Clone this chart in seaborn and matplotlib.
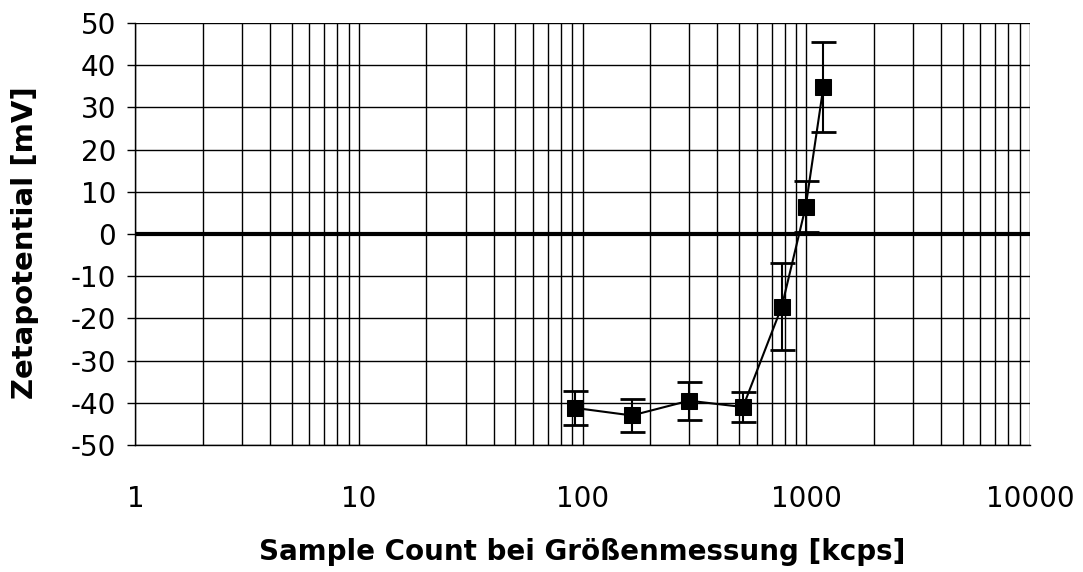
import numpy as np
import pandas as pd
import matplotlib.pyplot as plt
import seaborn as sns
from matplotlib.ticker import LogLocator, FixedLocator, NullFormatter

sns.set_theme(style="white")
plt.rcParams["font.family"] = ["DejaVu Sans"]
plt.rcParams["axes.unicode_minus"] = False
plt.rcParams.update({"text.color": "black", "axes.labelcolor": "black",
                     "xtick.color": "black", "ytick.color": "black"})

# Daten
sample_count = [92, 166, 299, 521, 777, 994, 1192]        # kcps
zeta = [-41.2, -43.0, -39.5, -41.0, -17.2, 6.5, 34.8]      # mV
zeta_err = [4.0, 4.0, 4.5, 3.6, 10.4, 6.0, 10.7]            # mV

df = pd.DataFrame({"count": sample_count, "zeta": zeta, "err": zeta_err})

fig, ax = plt.subplots(figsize=(10.83, 5.72), dpi=100)
fig.subplots_adjust(left=0.125, right=0.951, top=0.96, bottom=0.222)

ax.set_xscale("log")
ax.set_xlim(1, 10000)
ax.set_ylim(-50, 50)

# Gitter
ax.xaxis.set_major_locator(LogLocator(base=10, numticks=10))
ax.xaxis.set_minor_locator(LogLocator(base=10, subs=np.arange(2, 10), numticks=100))
ax.xaxis.set_minor_formatter(NullFormatter())
ax.yaxis.set_major_locator(FixedLocator(np.arange(-50, 51, 10)))
ax.grid(True, which="both", axis="x", color="black", linewidth=1.0)
ax.grid(True, which="major", axis="y", color="black", linewidth=1.0)
ax.axhline(0, color="black", linewidth=3, zorder=2)

# Fehlerbalken und Messpunkte
ax.errorbar(df["count"], df["zeta"], yerr=df["err"], fmt="none", ecolor="black",
            elinewidth=1.5, capsize=9, capthick=2, zorder=3)
sns.lineplot(data=df, x="count", y="zeta", ax=ax, color="black", linewidth=1.5,
             marker="s", markersize=12, markeredgecolor="black", zorder=4)

ax.set_xticks([1, 10, 100, 1000, 10000])
ax.set_xticklabels(["1", "10", "100", "1000", "10000"])

for s in ["top", "right"]:
    ax.spines[s].set_visible(False)
for s in ["left", "bottom"]:
    ax.spines[s].set_color("black")
    ax.spines[s].set_linewidth(1.0)

ax.tick_params(axis="x", which="major", direction="inout", length=14, width=1,
               color="black", labelcolor="black", labelsize=20, pad=22)
ax.tick_params(axis="x", which="minor", direction="in", length=6, width=1, color="black")
ax.tick_params(axis="y", which="major", direction="out", length=6, width=1,
               color="black", labelcolor="black", labelsize=20, pad=8, left=True)

ax.set_xlabel("Sample Count bei Größenmessung [kcps]", fontsize=20, fontweight="bold",
              color="black", labelpad=18)
ax.set_ylabel("Zetapotential [mV]", fontsize=21, fontweight="bold", color="black")
ax.yaxis.set_label_coords(-0.108, 0.48)
if ax.get_legend():
    ax.get_legend().remove()

plt.savefig("out.png", dpi=100)
